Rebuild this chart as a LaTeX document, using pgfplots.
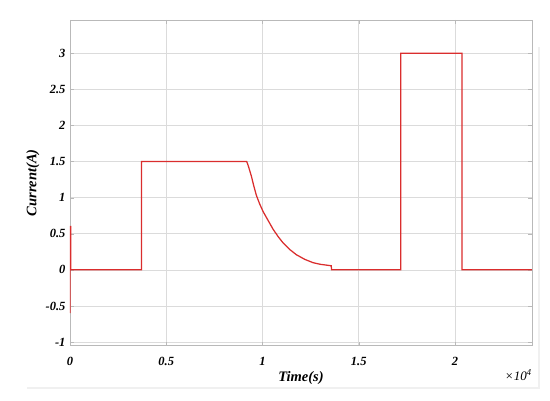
\documentclass[border=0pt]{standalone}
\usepackage{pgfplots}
\pgfplotsset{compat=1.18}
\usepackage{fontspec}
\setmainfont{Liberation Serif}
\definecolor{matred}{RGB}{218,45,45}
\begin{document}
\begin{tikzpicture}
\useasboundingbox (0,0) rectangle (550pt,401pt);
\draw[gray!12, line width=1.2pt] (27pt,13pt) -- (539pt,13pt) -- (539pt,354pt);
\begin{axis}[
  name=ax,
  at={(70pt,55.3pt)}, anchor=south west, scale only axis,
  width=462pt, height=325.7pt,
  xmin=0, xmax=24000, ymin=-1.05, ymax=3.46,
  xtick={0,5000,10000,15000,20000}, xticklabels={0,0.5,1,1.5,2},
  ytick={-1,-0.5,0,0.5,1,1.5,2,2.5,3},
  yticklabels={-1,-0.5,0,0.5,1,1.5,2,2.5,3},
  scaled ticks=false,
  grid=major, major grid style={gray!28, line width=0.6pt},
  axis line style={gray!55, line width=0.7pt},
  tick style={gray!55}, tick align=inside, major tick length=4pt,
  ticklabel style={font=\fontsize{12.5}{14}\selectfont\bfseries\itshape},
  xticklabel style={yshift=-8pt},
  yticklabel style={xshift=-1pt},
]
\addplot[matred, line width=1.25pt] coordinates {
(0,-0.6) (0,0.6) (40,0.6) (40,0) (3710,0) (3710,1.5) (9180,1.5)
(9250,1.45) (9330,1.38) (9424,1.296) (9550,1.16) (9684,1.03) (9850,0.915) (10026,0.81)
(10300,0.68) (10545,0.565) (10800,0.465) (11063,0.375) (11400,0.285) (11758,0.21)
(12200,0.145) (12620,0.10) (13000,0.077) (13485,0.06) (13570,0.057) (13590,0)
(17185,0) (17185,3) (20368,3) (20368,0) (24000,0)
};
\end{axis}
\node[font=\fontsize{14.5}{16}\selectfont\bfseries\itshape] at ([yshift=-32pt]ax.south) {Time(s)};
\node[rotate=90, font=\fontsize{14.5}{16}\selectfont\bfseries\itshape] at ([xshift=-37pt]ax.west) {Current(A)};
\node[anchor=north east, inner sep=0pt, font=\fontsize{13}{15}\selectfont\itshape] at ([yshift=-24pt]ax.south east) {×10\textsuperscript{4}};
\end{tikzpicture}
\end{document}
